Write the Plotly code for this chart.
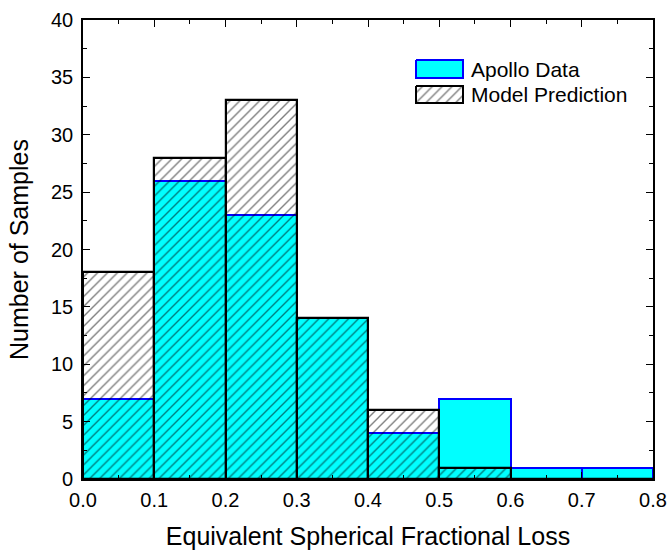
import plotly.graph_objects as go

bin_left = [0.0, 0.1, 0.2, 0.3, 0.4, 0.5, 0.6, 0.7]
apollo = [7, 26, 23, 14, 4, 7, 1, 1]
model = [18, 28, 33, 14, 6, 1, 0, 0]
x_ticks = [0.0, 0.1, 0.2, 0.3, 0.4, 0.5, 0.6, 0.7, 0.8]
y_ticks = [0, 5, 10, 15, 20, 25, 30, 35, 40]
legend_names = ["Apollo Data", "Model Prediction"]

FONT = "Liberation Sans, Arial, sans-serif"
HATCH = dict(shape="/", fgcolor="black", size=7, solidity=0.2)

fig = go.Figure()
fig.add_trace(go.Bar(
    x=bin_left, y=apollo, width=0.1, offset=0, name=legend_names[0],
    marker=dict(color="#00FFFF", line=dict(color="#0000FF", width=2)),
    showlegend=False,
))
fig.add_trace(go.Bar(
    x=bin_left, y=model, width=0.1, offset=0, name=legend_names[1],
    marker=dict(color="rgba(0,0,0,0)", line=dict(color="black", width=2.2),
                pattern=dict(HATCH, bgcolor="rgba(0,0,0,0)", fillmode="overlay")),
    showlegend=False,
))

# custom legend drawn on an overlay axis spanning [0,1] x [0,1]
def xp(px):
    return (px - 83) / 570

def yp(py):
    return (479 - py) / 459

lx0, lx1 = xp(416), xp(463)
fig.add_trace(go.Scatter(
    x=[lx0, lx1, lx1, lx0, lx0],
    y=[yp(60), yp(60), yp(78), yp(78), yp(60)],
    mode="lines", fill="toself", fillcolor="#00FFFF",
    line=dict(color="#0000FF", width=2), xaxis="x2", yaxis="y2",
    showlegend=False, hoverinfo="skip",
))
fig.add_trace(go.Scatter(
    x=[lx0, lx1, lx1, lx0, lx0],
    y=[yp(86), yp(86), yp(103), yp(103), yp(86)],
    mode="lines", fill="toself", fillcolor="rgba(0,0,0,0)",
    fillpattern=dict(HATCH, bgcolor="white"),
    line=dict(color="black", width=2), xaxis="x2", yaxis="y2",
    showlegend=False, hoverinfo="skip",
))
for name, py in zip(legend_names, [69, 94.5]):
    fig.add_annotation(x=xp(469), y=yp(py), xref="x2", yref="y2",
                       text=name, showarrow=False, xanchor="left", yanchor="middle",
                       font=dict(size=21, color="black", family=FONT))

def axis_common(minor_dtick):
    return dict(
        showline=True, linecolor="black", linewidth=1.6, mirror="ticks",
        ticks="inside", ticklen=7, tickwidth=1.4, tickcolor="black",
        showgrid=False, zeroline=False, automargin=False,
        tickfont=dict(size=20, color="black", family=FONT),
        minor=dict(ticks="inside", ticklen=4, tickwidth=1.2, tickcolor="black",
                   showgrid=False, dtick=minor_dtick, tick0=0),
    )

fig.update_layout(
    width=670, height=550,
    margin=dict(l=83, r=17, t=20, b=71),
    paper_bgcolor="white", plot_bgcolor="white",
    barmode="overlay", bargap=0,
    font=dict(family=FONT, color="black"),
    xaxis=dict(range=[0, 0.8], tickvals=x_ticks, ticktext=[f"{v:.1f}" for v in x_ticks],
               ticklabelstandoff=2,
               title=dict(text="Equivalent Spherical Fractional Loss",
                          font=dict(size=25, family=FONT, color="black"), standoff=18),
               **axis_common(0.05)),
    yaxis=dict(range=[0, 40], tickvals=y_ticks, ticklabelstandoff=4,
               title=dict(text="Number of Samples",
                          font=dict(size=25, family=FONT, color="black"), standoff=15),
               **axis_common(2.5)),
    xaxis2=dict(range=[0, 1], overlaying="x", visible=False, fixedrange=True),
    yaxis2=dict(range=[0, 1], overlaying="y", visible=False, fixedrange=True),
)

fig.write_html(
    "out.html",
    config={"displayModeBar": False},
    post_script="document.body.style.margin='0px';document.body.style.overflow='hidden';",
)
